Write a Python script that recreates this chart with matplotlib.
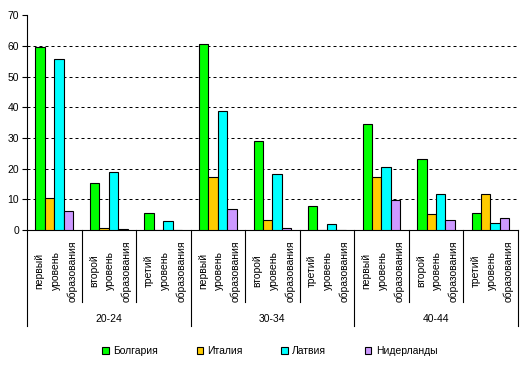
import matplotlib
matplotlib.use("Agg")
import matplotlib.pyplot as plt
import matplotlib.transforms as mtransforms
from matplotlib.patches import Patch
import numpy as np

plt.rcParams['font.family'] = ['Liberation Sans', 'DejaVu Sans']

levels = ["первый\nуровень\nобразования",
          "второй\nуровень\nобразования",
          "третий\nуровень\nобразования"]
age_groups = ["20-24", "30-34", "40-44"]
countries = ["Болгария", "Италия", "Латвия", "Нидерланды"]
colors = ["#00FF00", "#FFCC00", "#00FFFF", "#CC99FF"]

bulgaria = [59.8, 15.2, 5.4, 60.5, 28.9, 7.7, 34.7, 23.0, 5.4]
italy = [10.3, 0.5, 0.0, 17.2, 3.2, 0.0, 17.2, 5.1, 11.6]
latvia = [55.6, 18.8, 2.9, 38.7, 18.1, 1.9, 20.4, 11.9, 2.2]
netherlands = [6.1, 0.2, 0.0, 6.7, 0.5, 0.0, 9.7, 3.2, 3.8]
series = [bulgaria, italy, latvia, netherlands]

W, H = 522, 368
fig = plt.figure(figsize=(W / 100, H / 100), dpi=100)
ax = fig.add_axes([27 / W, 1 - 230 / H, (517.7 - 27) / W, (230 - 15.3) / H])

x = np.arange(len(bulgaria))
w = 0.1725
for i, (vals, c, name) in enumerate(zip(series, colors, countries)):
    ax.bar(x + (i - 1.5) * w, vals, w, color=c, edgecolor='black',
           linewidth=0.8, label=name, zorder=3)

ax.set_xlim(-0.5, len(x) - 0.5)
ax.set_ylim(0, 70)
ax.set_yticks(range(0, 80, 10))
ax.tick_params(axis='y', labelsize=7.5, length=3.6, width=0.8, pad=2.2)
ax.set_xticks([])
ax.yaxis.grid(True, color='black', linewidth=0.72, linestyle=(0, (3, 3)))
ax.get_ygridlines()[-1].set_visible(False)
ax.get_ygridlines()[0].set_visible(False)
ax.set_axisbelow(True)
for s in ['top', 'right']:
    ax.spines[s].set_visible(False)
for s in ['left', 'bottom']:
    ax.spines[s].set_linewidth(0.8)

# multi-level category axis
tr = mtransforms.blended_transform_factory(ax.transData, fig.transFigure)
y_axis = 1 - 230 / H
y_inner = 1 - 302 / H
y_outer = 1 - 326 / H
for b in np.arange(-0.5, len(x), 1.0):
    end = y_outer if (b + 0.5) % 3 == 0 else y_inner
    ax.plot([b, b], [y_axis, end], color='black', lw=0.8,
            transform=tr, clip_on=False)
for k in x:
    ax.text(k + 0.03, 1 - 271 / H, levels[k % 3], transform=tr, rotation=90,
            ha='center', va='center', multialignment='center',
            fontsize=7.5, linespacing=1.75)
for g, lab in enumerate(age_groups):
    ax.text(3 * g + 1, 1 - 319.5 / H, lab, transform=tr,
            ha='center', va='center', fontsize=7.5)

handles = [Patch(facecolor=c, edgecolor='black', linewidth=0.8) for c in colors]
fig.legend(handles, countries, loc='center', bbox_to_anchor=(0.517, 1 - 351 / H),
           ncol=4, frameon=False, fontsize=7.5, handlelength=0.6,
           handleheight=0.6, handletextpad=0.45, columnspacing=3.7)

fig.savefig("out.png", dpi=100)
